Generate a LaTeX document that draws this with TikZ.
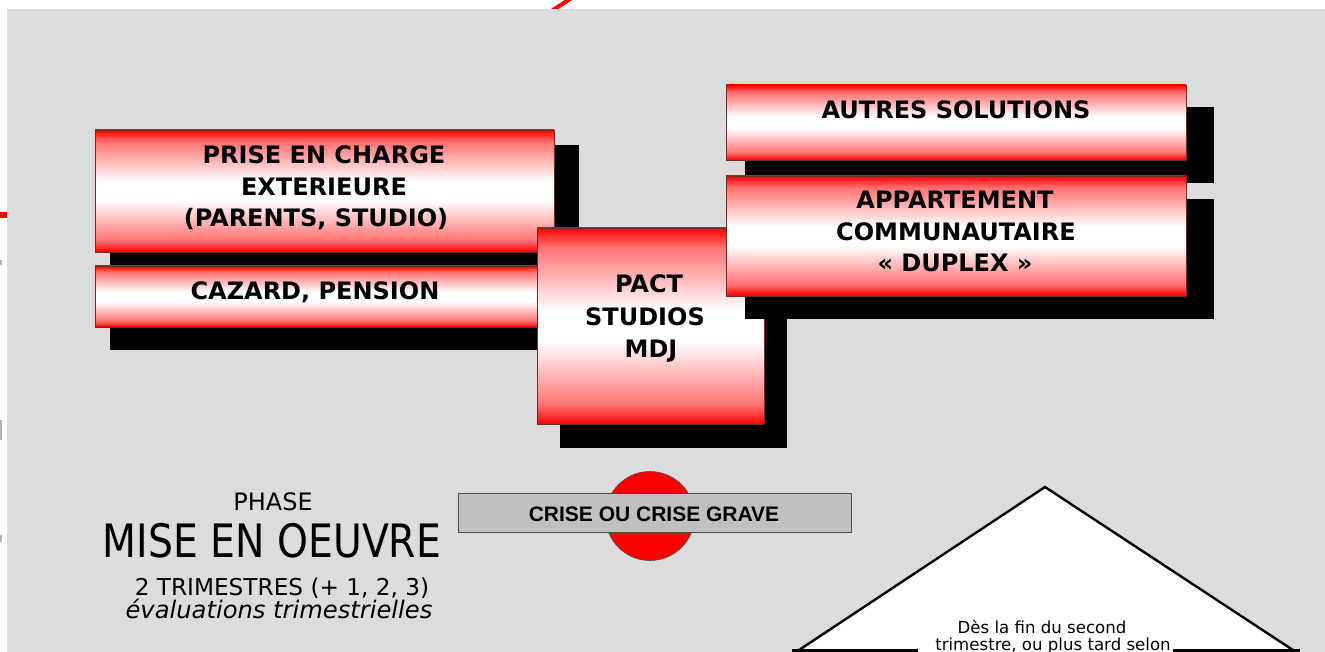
\documentclass[tikz,border=0pt]{standalone}
\usepackage{fontspec}
\setmainfont{DejaVu Sans}
\newfontfamily\crisefont{Liberation Sans}
\newfontfamily\condfont{DejaVu Sans}[FakeStretch=0.855]
\definecolor{bggray}{RGB}{220,220,220}
\definecolor{boxborder}{RGB}{120,40,40}
\definecolor{crisegray}{RGB}{192,192,192}
\pgfdeclareverticalshading{rwr}{100bp}{color(0bp)=(red); color(25bp)=(red); color(30bp)=(red!55); color(46bp)=(white); color(54bp)=(white); color(70bp)=(red!55); color(75bp)=(red); color(100bp)=(red)}
\tikzset{
  shadowbox/.style={fill=black},
  redbox/.style={shading=rwr, draw=boxborder, line width=0.8pt},
  boxtext/.style={anchor=base, inner sep=0pt, font=\fontsize{24}{30}\selectfont\bfseries},
  phasetext/.style={anchor=base, inner sep=0pt},
  tritext/.style={anchor=base, inner sep=0pt, font=\fontsize{16.6}{20}\selectfont},
}
\begin{document}
\begin{tikzpicture}[x=1pt,y=-1pt]
\useasboundingbox (0,0) rectangle (1325,652);
\clip (0,0) rectangle (1325,652);
\fill[white] (0,0) rectangle (1325,652);
% fragments behind the background
\fill[red] (0,212) rectangle (7,218);
\draw[red, line width=4pt] (550,12) -- (573,-3);
\fill[gray!60] (0,260) rectangle (1.5,265);
\fill[gray!60] (0,420) rectangle (1.5,440);
\fill[gray!60] (0,535) rectangle (1.5,542);
% background
\fill[bggray] (7,9) rectangle (1325,652);

% PRISE EN CHARGE
\fill[shadowbox] (110,145) rectangle (579,275);
\shade[redbox] (95,130) rectangle (554,252);
\node[boxtext] (prise1) at (324,164) {PRISE EN CHARGE};
\node[boxtext] (prise2) at (324,196) {EXTERIEURE};
\node[boxtext] (prise3) at (316,227) {(PARENTS, STUDIO)};

% CAZARD
\fill[shadowbox] (110,289) rectangle (570,350);
\shade[redbox] (95,266) rectangle (545,327);
\node[boxtext] (cazard) at (315,300) {CAZARD, PENSION};

% PACT
\fill[shadowbox] (560,251) rectangle (787,448);
\shade[redbox] (537,228) rectangle (764,424);
\node[boxtext] (pact1) at (649,293) {PACT};
\node[boxtext] (pact2) at (645,325) {STUDIOS};
\node[boxtext] (pact3) at (651,357) {MDJ};

% AUTRES SOLUTIONS
\fill[shadowbox] (745,107) rectangle (1214,183);
\shade[redbox] (726,85) rectangle (1186,160);
\node[boxtext] (autres) at (956,119) {AUTRES SOLUTIONS};

% APPARTEMENT
\fill[shadowbox] (745,199) rectangle (1214,319);
\shade[redbox] (726,176) rectangle (1186,296);
\node[boxtext] (app1) at (955,209) {APPARTEMENT};
\node[boxtext] (app2) at (956,241) {COMMUNAUTAIRE};
\node[boxtext] (app3) at (955,272) {« DUPLEX »};

% CRISE
\node[circle, fill=red, draw=black!70, line width=0.6pt, minimum size=89pt, inner sep=0pt] (crisecircle) at (650,516) {};
\node[fill=crisegray, draw=black!70, line width=0.8pt, minimum width=393pt, minimum height=39pt, inner sep=0pt] (crisebox) at (654.5,512.5) {};
\node[anchor=base, inner sep=0pt, font=\crisefont\fontsize{21}{24}\selectfont\bfseries] (crisetext) at (654,521) {CRISE OU CRISE GRAVE};

% PHASE
\node[phasetext, font=\fontsize{24}{28}\selectfont] (phase) at (273,510) {PHASE};
\node[phasetext, font=\condfont\fontsize{46}{50}\selectfont] (mise) at (272,557) {MISE EN OEUVRE};
\node[phasetext, font=\fontsize{23.2}{28}\selectfont] (trim) at (282,595) {2 TRIMESTRES (+ 1, 2, 3)};
\node[phasetext, font=\fontsize{24.2}{28}\selectfont\itshape] (eval) at (279,618) {évaluations trimestrielles};

% TRIANGLE
\coordinate (triL) at (790,656);
\coordinate (triT) at (1045,487);
\coordinate (triR) at (1302,656);
\draw[fill=white, line width=2.4pt, line join=miter] (triL) -- (triT) -- (triR);
\coordinate (baseL) at (792,650.5);
\coordinate (baseLi) at (918,650.5);
\coordinate (baseRi) at (1173,650.5);
\coordinate (baseR) at (1300,650.5);
\draw[line width=3pt] (baseL) -- (baseLi);
\draw[line width=3pt] (baseRi) -- (baseR);
\node[tritext] (tri1) at (1042,633) {Dès la fin du second};
\node[tritext] (tri2) at (1053,650) {trimestre, ou plus tard selon};
\end{tikzpicture}
\end{document}
